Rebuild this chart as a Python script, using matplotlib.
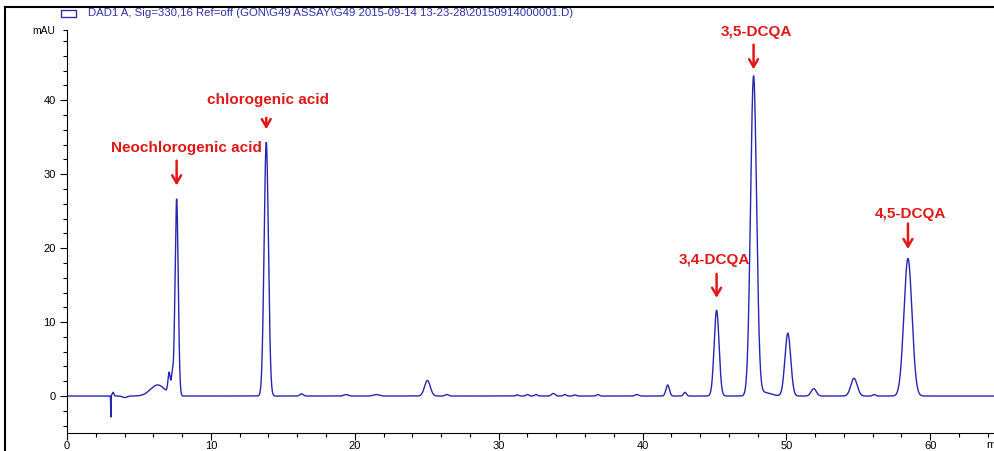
import numpy as np
import matplotlib
matplotlib.use("Agg")
import matplotlib.pyplot as plt
from matplotlib.ticker import MultipleLocator, FixedLocator

plt.rcParams['font.family'] = ['Liberation Sans', 'DejaVu Sans']

# peak table: retention time (min), height (mAU), sigma (min)
peak_rt = [3.05, 3.2, 4.0, 6.3, 7.1, 7.32, 7.62, 13.85, 16.3, 19.4, 21.5, 25.05, 26.4,
           31.3, 32.0, 32.6, 33.8, 34.6, 35.3, 36.9, 39.6, 41.75, 42.95, 45.15, 47.72,
           48.4, 50.1, 51.9, 54.7, 56.1, 58.45]
peak_height = [-2.9, 0.5, -0.2, 1.5, 2.8, 2.6, 26.6, 34.3, 0.3, 0.2, 0.2, 2.1, 0.2,
               0.15, 0.2, 0.2, 0.35, 0.2, 0.15, 0.2, 0.2, 1.5, 0.5, 11.6, 43.1,
               0.5, 8.5, 1.0, 2.4, 0.2, 18.6]
peak_sigma = [0.012, 0.06, 0.15, 0.5, 0.08, 0.07, 0.11, 0.15, 0.12, 0.15, 0.2, 0.2, 0.12,
              0.1, 0.1, 0.1, 0.12, 0.1, 0.1, 0.1, 0.12, 0.12, 0.1, 0.17, 0.21,
              0.5, 0.2, 0.18, 0.22, 0.1, 0.28]

labels = ['Neochlorogenic acid', 'chlorogenic acid', '3,4-DCQA', '3,5-DCQA', '4,5-DCQA']
label_rt = [7.62, 13.85, 45.15, 47.72, 58.45]
label_top = [26.8, 34.3, 11.6, 43.1, 18.6]

header = r'DAD1 A, Sig=330,16 Ref=off (GON\G49 ASSAY\G49 2015-09-14 13-23-28\20150914000001.D)'

t = np.arange(0, 64.5, 0.004)
signal = np.zeros_like(t)
for rt, h, s in zip(peak_rt, peak_height, peak_sigma):
    signal += h * np.exp(-0.5 * ((t - rt) / s) ** 2)

fig = plt.figure(figsize=(9.95, 4.51), dpi=100)
ax = fig.add_axes([67 / 995, 1 - 433 / 451, 1 - 67 / 995, (433 - 30) / 451])
ax.plot(t, signal, color='#2626b0', lw=1.0)

ax.set_xlim(0, 64.5)
ax.set_ylim(-5, 49.5)
ax.spines['top'].set_visible(False)
ax.spines['right'].set_visible(False)
ax.xaxis.set_major_locator(MultipleLocator(10))
ax.xaxis.set_minor_locator(MultipleLocator(2))
ax.yaxis.set_major_locator(FixedLocator([0, 10, 20, 30, 40]))
ax.yaxis.set_minor_locator(FixedLocator(list(range(-4, 50, 2)) + [49.5]))
ax.tick_params(which='major', length=5, width=0.8, labelsize=8, pad=3)
ax.tick_params(which='minor', length=3, width=0.8)
ax.tick_params(axis='x', pad=0.5)
ax.text(-0.8, 49.3, 'mAU', ha='right', va='center', fontsize=7.5)
fig.text(986 / 995, 1 - 445 / 451, 'min', ha='left', va='center', fontsize=8)

# annotations: (text dx, text dy, arrow tail dy, arrow head dy) relative to the peak top
label_place = [(0.7, 6.8, 5.4, 1.3), (0.15, 5.7, 3.7, 1.4), (-0.15, 6.8, 5.3, 1.3),
               (0.2, 6.1, 4.8, 0.7), (0.15, 6.0, 5.1, 0.9)]
for name, rt, top, (dx, dy, tail, head) in zip(labels, label_rt, label_top, label_place):
    ax.annotate('', xy=(rt, top + head), xytext=(rt, top + tail),
                arrowprops=dict(arrowstyle='->,head_length=0.55,head_width=0.32',
                                color='#e01818', lw=1.8))
    ax.text(rt + dx, top + dy, name, ha='center', va='center', color='#e01818',
            fontsize=11, fontweight='bold')

# header legend
fig.patches.append(plt.Rectangle((61 / 995, 1 - 17 / 451), 15 / 995, 7 / 451,
                                 transform=fig.transFigure, fill=False,
                                 edgecolor='#3030a8', lw=1.0))
fig.text(88 / 995, 1 - 13 / 451, header, ha='left', va='center', color='#3030a8', fontsize=8.2)

# frame lines of the original window
fig.add_artist(plt.Line2D([5 / 995, 1], [1 - 7 / 451, 1 - 7 / 451], color='black', lw=1.5,
                          transform=fig.transFigure))
fig.add_artist(plt.Line2D([5 / 995, 5 / 995], [0, 1 - 7 / 451], color='black', lw=1.5,
                          transform=fig.transFigure))

fig.savefig('out.png', dpi=100)
